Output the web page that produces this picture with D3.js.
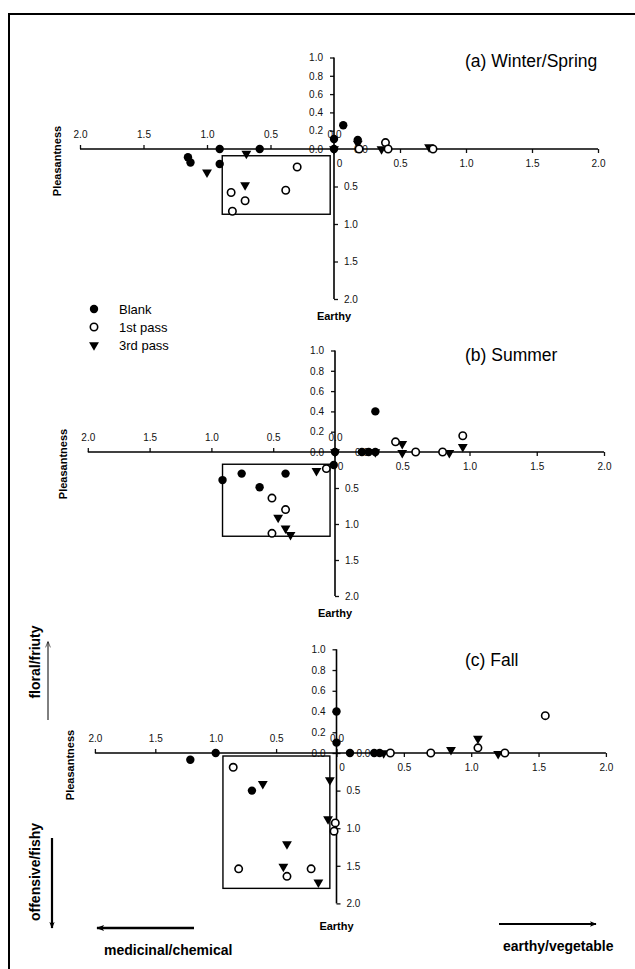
<!DOCTYPE html>
<html>
<head>
<meta charset="utf-8">
<script src="https://cdnjs.cloudflare.com/ajax/libs/d3/7.8.5/d3.min.js"></script>
<style>
  body { margin: 0; background: #fff; }
  svg { display: block; font-family: "Liberation Sans", Arial, Helvetica, sans-serif; }
</style>
</head>
<body>
<svg id="chart" width="635" height="969"></svg>
<script>
// points are [earthy, pleasantness]; negative earthy = medicinal side, negative pleasantness = offensive side
const winterBlank = [[-0.90, 0], [-0.585, 0], [-1.15, -0.11], [-1.13, -0.18], [-0.90, -0.20], [0, 0], [0, 0.11], [0.07, 0.26], [0.18, 0.10]];
const winterFirst = [[-0.29, -0.24], [-0.38, -0.55], [-0.81, -0.58], [-0.70, -0.69], [-0.80, -0.83], [0.19, 0], [0.39, 0.07], [0.41, 0], [0.75, 0]];
const winterThird = [[-0.69, -0.06], [-1.0, -0.31], [-0.70, -0.48], [0, 0], [0.18, 0.06], [0.36, 0], [0.72, 0.02]];

const summerBlank = [[-0.91, -0.39], [-0.755, -0.30], [-0.40, -0.30], [-0.61, -0.49], [-0.01, -0.18], [0, 0], [0.2, 0], [0.25, 0], [0.3, 0], [0.3, 0.40]];
const summerFirst = [[-0.51, -0.64], [-0.40, -0.80], [-0.51, -1.13], [-0.07, -0.23], [0.45, 0.10], [0.6, 0], [0.8, 0], [0.95, 0.16]];
const summerThird = [[-0.15, -0.26], [-0.46, -0.91], [-0.40, -1.06], [-0.36, -1.15], [0, 0], [0.3, 0], [0.5, 0.08], [0.5, -0.01], [0.85, -0.01], [0.95, 0.05]];

const fallBlank = [[0, 0.40], [0, 0.10], [-1.0, 0], [-1.21, -0.09], [-0.70, -0.50], [0.1, 0], [0.28, 0], [0.32, 0]];
const fallFirst = [[-0.855, -0.19], [-0.81, -1.54], [-0.41, -1.64], [-0.21, -1.54], [-0.01, -0.93], [-0.02, -1.04], [0.40, 0], [0.70, 0], [1.05, 0.05], [1.25, 0], [1.55, 0.36]];
const fallThird = [[-0.61, -0.41], [-0.055, -0.36], [-0.07, -0.88], [-0.41, -1.21], [-0.44, -1.51], [-0.15, -1.72], [0.35, 0], [0.85, 0.03], [1.05, 0.14], [1.2, -0.01]];

// rectangle drawn round the medicinal/offensive cluster: [x1, x2, y1, y2]
const winterBox = [-0.88, -0.03, -0.09, -0.87];
const summerBox = [-0.91, -0.04, -0.17, -1.17];
const fallBox = [-0.94, -0.055, -0.04, -1.80];

const seriesNames = ["Blank", "1st pass", "3rd pass"];
const seasonTitles = ["(a) Winter/Spring", "(b) Summer", "(c) Fall"];
const xTicks = [0, 0.5, 1.0, 1.5, 2.0];
const upTicks = [0, 0.2, 0.4, 0.6, 0.8, 1.0];
const downTicks = [0, 0.5, 1.0, 1.5, 2.0];

// pixel layout of each panel: origin and length of one unit on each half-axis
const panels = [
  { title: seasonTitles[0], series: [winterBlank, winterFirst, winterThird], box: winterBox,
    x0: 334, y0: 149, left: 127, right: 132, up: 91.5, down: 75, titleY: 67, pleasX: 57, earthyY: 316 },
  { title: seasonTitles[1], series: [summerBlank, summerFirst, summerThird], box: summerBox,
    x0: 335, y0: 452, left: 123.6, right: 134.5, up: 101.5, down: 72, titleY: 361, pleasX: 63, earthyY: 613 },
  { title: seasonTitles[2], series: [fallBlank, fallFirst, fallThird], box: fallBox,
    x0: 336.5, y0: 753, left: 120.8, right: 134.7, up: 103.7, down: 75.2, titleY: 666, pleasX: 70, earthyY: 926 }
];

const svg = d3.select("#chart");

// frame (runs off the right and bottom of the page in the original)
svg.append("rect")
  .attr("x", 9).attr("y", 14)
  .attr("width", 700).attr("height", 1000)
  .attr("fill", "none").attr("stroke", "#000").attr("stroke-width", 2);

const fmt = d => Math.abs(d).toFixed(1);
const tri = d3.symbol(d3.symbolTriangle, 42)();

function drawMarkers(g, pts, kind, sx, sy) {
  if (kind === 2) {
    g.selectAll(null).data(pts).join("path")
      .attr("d", tri)
      .attr("transform", d => `translate(${sx(d[0])},${sy(d[1])}) rotate(180)`)
      .attr("fill", "#000");
  } else {
    g.selectAll(null).data(pts).join("circle")
      .attr("cx", d => sx(d[0])).attr("cy", d => sy(d[1]))
      .attr("r", kind === 0 ? 4.2 : 3.7)
      .attr("fill", kind === 0 ? "#000" : "#fff")
      .attr("stroke", "#000").attr("stroke-width", kind === 0 ? 0 : 1.6);
  }
}

function styleAxis(a) {
  a.select(".domain").remove();
  a.attr("font-family", null).attr("font-size", 10).attr("color", "#111");
  a.selectAll(".tick line").attr("stroke-width", 1.3);
}

panels.forEach(p => {
  const g = svg.append("g");
  const xL = d3.scaleLinear().domain([-2, 0]).range([p.x0 - 2 * p.left, p.x0]);
  const xR = d3.scaleLinear().domain([0, 2]).range([p.x0, p.x0 + 2 * p.right]);
  const yU = d3.scaleLinear().domain([0, 1]).range([p.y0, p.y0 - p.up]);
  const yD = d3.scaleLinear().domain([-2, 0]).range([p.y0 + 2 * p.down, p.y0]);
  const sx = v => (v < 0 ? xL(v) : xR(v));
  const sy = v => (v < 0 ? yD(v) : yU(v));

  // four half-axes
  g.append("g").attr("transform", `translate(0,${p.y0})`)
    .call(d3.axisTop(xL).tickValues(xTicks.map(d => -d)).tickFormat(fmt).tickSize(4).tickPadding(7))
    .call(styleAxis);
  g.append("g").attr("transform", `translate(0,${p.y0})`)
    .call(d3.axisBottom(xR).tickValues(xTicks).tickFormat(d => (d === 0 ? "0" : fmt(d))).tickSize(4).tickPadding(7))
    .call(styleAxis)
    .call(a => a.selectAll(".tick text").filter(d => d === 0).attr("dx", 5));
  g.append("g").attr("transform", `translate(${p.x0},0)`)
    .call(d3.axisLeft(yU).tickValues(upTicks).tickFormat(fmt).tickSize(4).tickPadding(7))
    .call(styleAxis);
  g.append("g").attr("transform", `translate(${p.x0},0)`)
    .call(d3.axisRight(yD).tickValues(downTicks.map(d => -d)).tickFormat(fmt).tickSize(4).tickPadding(6))
    .call(styleAxis)
    .call(a => a.selectAll(".tick text").filter(d => d === 0).attr("dx", 10));

  // axis lines on top of the crowded 0.0 labels
  g.append("line")
    .attr("x1", sx(-2)).attr("x2", sx(2)).attr("y1", p.y0).attr("y2", p.y0)
    .attr("stroke", "#000").attr("stroke-width", 1.6);
  g.append("line")
    .attr("x1", p.x0).attr("x2", p.x0).attr("y1", sy(1)).attr("y2", sy(-2))
    .attr("stroke", "#000").attr("stroke-width", 1.6);

  const [bx1, bx2, by1, by2] = p.box;
  g.append("rect")
    .attr("x", sx(bx1)).attr("y", sy(by1))
    .attr("width", sx(bx2) - sx(bx1)).attr("height", sy(by2) - sy(by1))
    .attr("fill", "none").attr("stroke", "#000").attr("stroke-width", 1.4);

  drawMarkers(g, p.series[2], 2, sx, sy);
  drawMarkers(g, p.series[0], 0, sx, sy);
  drawMarkers(g, p.series[1], 1, sx, sy);

  g.append("text")
    .attr("x", 465).attr("y", p.titleY)
    .attr("font-size", 17.5)
    .text(p.title);

  g.append("text")
    .attr("transform", `translate(${p.pleasX},${p.y0 + 12}) rotate(-90)`)
    .attr("text-anchor", "middle").attr("dominant-baseline", "central")
    .attr("font-size", 11).attr("font-weight", "bold")
    .text("Pleasantness");

  g.append("text")
    .attr("x", p.x0).attr("y", p.earthyY)
    .attr("text-anchor", "middle").attr("dominant-baseline", "central")
    .attr("font-size", 11).attr("font-weight", "bold")
    .text("Earthy");
});

// legend
const legend = svg.append("g");
seriesNames.forEach((name, i) => {
  const y = 309 + i * 18;
  drawMarkers(legend, [[0, 0]], i, () => 94, () => y);
  legend.append("text")
    .attr("x", 119).attr("y", y)
    .attr("dominant-baseline", "central")
    .attr("font-size", 13)
    .text(name);
});

// direction arrows and their captions
const defs = svg.append("defs");
defs.append("marker")
  .attr("id", "head").attr("viewBox", "0 0 10 10")
  .attr("refX", 9).attr("refY", 5)
  .attr("markerWidth", 4).attr("markerHeight", 3)
  .attr("markerUnits", "strokeWidth").attr("orient", "auto")
  .append("path").attr("d", "M0,1 L10,5 L0,9 L2,5 Z").attr("fill", "#000");
defs.append("marker")
  .attr("id", "thin").attr("viewBox", "0 0 10 10")
  .attr("refX", 9).attr("refY", 5)
  .attr("markerWidth", 7).attr("markerHeight", 6)
  .attr("markerUnits", "strokeWidth").attr("orient", "auto")
  .append("path").attr("d", "M0,1 L10,5 L0,9").attr("fill", "none").attr("stroke", "#000");

const arrows = [
  { x1: 48, y1: 720, x2: 48, y2: 642, w: 1, m: "thin" },
  { x1: 52, y1: 838, x2: 52, y2: 928, w: 2.2, m: "head" },
  { x1: 194, y1: 928, x2: 97, y2: 928, w: 2.6, m: "head" },
  { x1: 499, y1: 924, x2: 596, y2: 924, w: 2.2, m: "head" }
];
svg.selectAll(null).data(arrows).join("line")
  .attr("x1", d => d.x1).attr("y1", d => d.y1)
  .attr("x2", d => d.x2).attr("y2", d => d.y2)
  .attr("stroke", "#000").attr("stroke-width", d => d.w)
  .attr("marker-end", d => `url(#${d.m})`);

svg.append("text")
  .attr("transform", "translate(35,662) rotate(-90)")
  .attr("text-anchor", "middle").attr("dominant-baseline", "central")
  .attr("font-size", 14).attr("font-weight", "bold")
  .text("floral/friuty");
svg.append("text")
  .attr("transform", "translate(35,872) rotate(-90)")
  .attr("text-anchor", "middle").attr("dominant-baseline", "central")
  .attr("font-size", 14).attr("font-weight", "bold")
  .text("offensive/fishy");
svg.append("text")
  .attr("x", 104).attr("y", 955)
  .attr("font-size", 14).attr("font-weight", "bold")
  .text("medicinal/chemical");
svg.append("text")
  .attr("x", 503).attr("y", 951)
  .attr("font-size", 14).attr("font-weight", "bold")
  .text("earthy/vegetable");
</script>
</body>
</html>
